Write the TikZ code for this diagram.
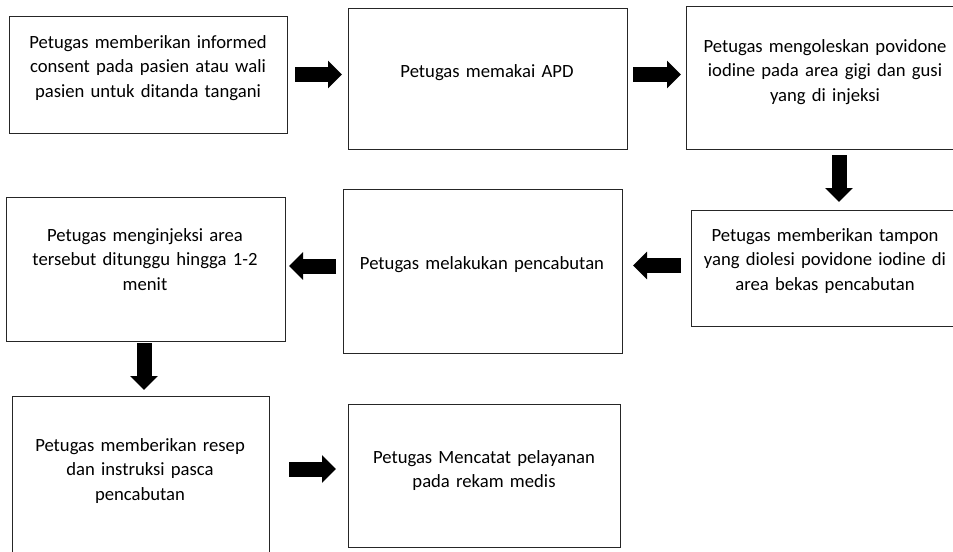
\documentclass[tikz,border=0pt]{standalone}
\usepackage{fontspec}
\setmainfont{Carlito}
\usetikzlibrary{arrows.meta,fit}
\begin{document}
\begin{tikzpicture}[x=0.75pt,y=-0.75pt,
  box/.style={draw=black!85, line width=0.75pt, inner sep=0pt},
  txt/.style={font=\fontsize{14}{18.4}\selectfont, text width=210pt, align=center, anchor=base, inner sep=0pt},
  blk/.style={line width=11.25pt, -{Triangle[length=10.5pt 0 0,width=20.25pt 0 0]}}]
\useasboundingbox (0,0) rectangle (953,551);
\clip (0,0) rectangle (953,551);
% boxes
\node[box, fit={(9,16)(287,133)}] (b1) {};
\node[box, fit={(348,8)(627,149)}] (b2) {};
\node[box, fit={(686,6)(965,149)}] (b3) {};
\node[box, fit={(691,210)(965,326)}] (b4) {};
\node[box, fit={(343,189)(622,353)}] (b5) {};
\node[box, fit={(6,197)(285,341)}] (b6) {};
\node[box, fit={(12,396)(269,565)}] (b7) {};
\node[box, fit={(348,404)(620,547)}] (b8) {};
% texts
\node[txt] (t1) at (148,48) {Petugas memberikan informed\\consent pada pasien atau wali\\pasien untuk ditanda tangani};
\node[txt] (t2) at (487,77) {Petugas memakai APD};
\node[txt] (t3) at (825,52) {Petugas mengoleskan povidone\\iodine pada area gigi dan gusi\\yang di injeksi};
\node[txt] (t4) at (825,241) {Petugas memberikan tampon\\yang diolesi povidone iodine di\\area bekas pencabutan};
\node[txt] (t5) at (482,269) {Petugas melakukan pencabutan};
\node[txt] (t6) at (145,241) {Petugas menginjeksi area\\tersebut ditunggu hingga 1-2\\menit};
\node[txt] (t7) at (140,451) {Petugas memberikan resep\\dan instruksi pasca\\pencabutan};
\node[txt] (t8) at (484,463) {Petugas Mencatat pelayanan\\pada rekam medis};
% arrow end points
\coordinate (a1s) at (295,74.5);  \coordinate (a1e) at (342,74.5);
\coordinate (a2s) at (633,74.5);  \coordinate (a2e) at (681,74.5);
\coordinate (a3s) at (839,155);   \coordinate (a3e) at (839,202);
\coordinate (a4s) at (681,265.5); \coordinate (a4e) at (633,265.5);
\coordinate (a5s) at (336,266);   \coordinate (a5e) at (289,266);
\coordinate (a6s) at (144,343);   \coordinate (a6e) at (144,390);
\coordinate (a7s) at (289,469);   \coordinate (a7e) at (336,469);
\draw[blk] (a1s) -- (a1e);
\draw[blk] (a2s) -- (a2e);
\draw[blk] (a3s) -- (a3e);
\draw[blk] (a4s) -- (a4e);
\draw[blk] (a5s) -- (a5e);
\draw[blk] (a6s) -- (a6e);
\draw[blk] (a7s) -- (a7e);
\end{tikzpicture}
\end{document}
